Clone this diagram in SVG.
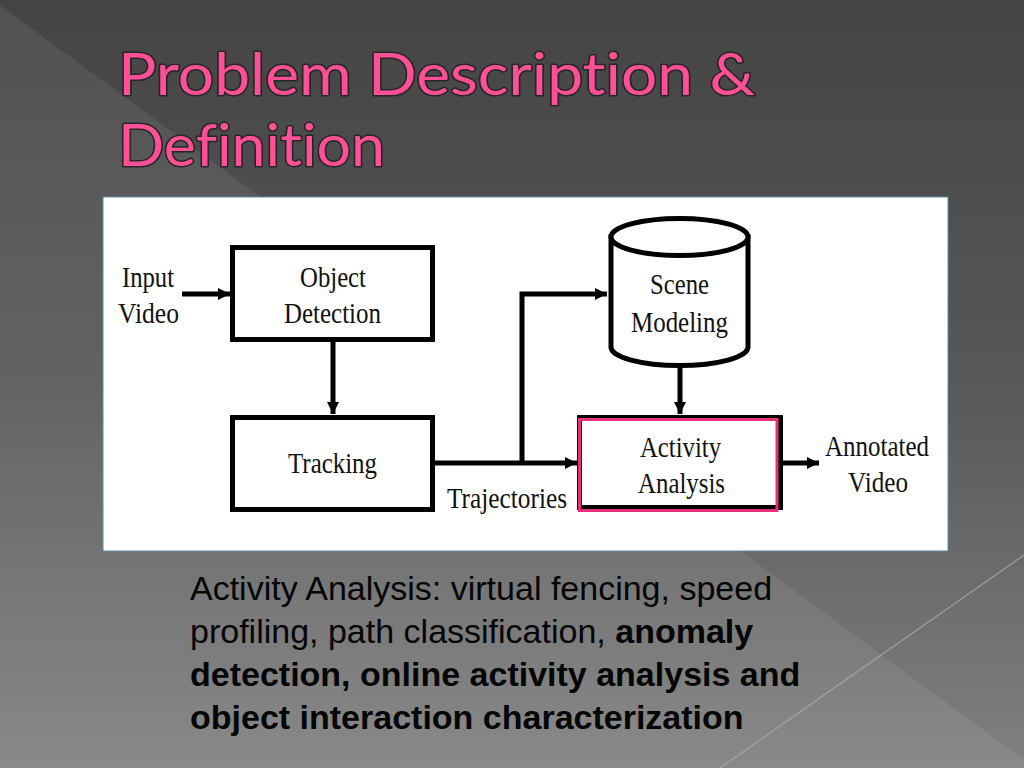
<svg xmlns="http://www.w3.org/2000/svg" width="1024" height="768" viewBox="0 0 1024 768">
<defs>
<linearGradient id="bg" x1="0" y1="0" x2="0" y2="1">
<stop offset="0" stop-color="#444444"/>
<stop offset="0.5" stop-color="#585858"/>
<stop offset="1" stop-color="#808080"/>
</linearGradient>
<marker id="ah" viewBox="0 0 12 12" refX="12" refY="6" markerWidth="12" markerHeight="12" markerUnits="userSpaceOnUse" orient="auto">
<path d="M0,0 L12,6 L0,12 Z" fill="#000"/>
</marker>
<style>
.title{font-family:"Lato","Open Sans","DejaVu Sans",sans-serif;font-weight:normal;font-size:58px;fill:#ff4f96;stroke:#262626;stroke-width:3;paint-order:stroke;stroke-linejoin:round;font-variant-ligatures:none}
.lbl{font-family:"Liberation Serif","Times New Roman",serif;font-size:29px;fill:#111;text-anchor:middle}
.box{fill:#fff;stroke:#000;stroke-width:5}
.conn{fill:none;stroke:#000;stroke-width:5}
.body{font-family:"Liberation Sans",Arial,sans-serif;font-size:34px;fill:#050505}
.b{font-weight:bold}
</style>
</defs>
<rect x="0" y="0" width="1024" height="768" fill="url(#bg)"/>
<polygon points="0,5 1024,760 1024,768 0,768" fill="#ffffff" fill-opacity="0.07"/>
<line x1="1024" y1="555" x2="720" y2="768" stroke="#b0b0b0" stroke-width="1.2" stroke-opacity="0.7"/>

<g id="title">
<text class="title" x="118" y="95" textLength="637" lengthAdjust="spacingAndGlyphs">Problem Description &amp;</text>
<text class="title" x="118" y="166" textLength="267" lengthAdjust="spacingAndGlyphs">Definition</text>
</g>

<rect x="103" y="197" width="845" height="354" fill="#ffffff" stroke="#5d8aa8" stroke-width="1"/>

<g id="connectors">
<line class="conn" x1="182" y1="294" x2="230" y2="294" marker-end="url(#ah)"/>
<line class="conn" x1="333" y1="342" x2="333" y2="414" marker-end="url(#ah)"/>
<line class="conn" x1="435" y1="463" x2="577" y2="463" marker-end="url(#ah)"/>
<polyline class="conn" points="522,463 522,294 607,294" marker-end="url(#ah)"/>
<line class="conn" x1="680" y1="368" x2="680" y2="414" marker-end="url(#ah)"/>
<line class="conn" x1="783" y1="463" x2="819" y2="463" marker-end="url(#ah)"/>
<text class="lbl" x="507" y="508" textLength="120" lengthAdjust="spacingAndGlyphs">Trajectories</text>
</g>

<g id="input-video">
<text class="lbl" x="148" y="287" textLength="52" lengthAdjust="spacingAndGlyphs">Input</text>
<text class="lbl" x="148.5" y="323" textLength="61" lengthAdjust="spacingAndGlyphs">Video</text>
</g>

<g id="object-detection">
<rect class="box" x="232.5" y="247.5" width="200" height="92"/>
<text class="lbl" x="333" y="287" textLength="66" lengthAdjust="spacingAndGlyphs">Object</text>
<text class="lbl" x="332.5" y="323" textLength="97" lengthAdjust="spacingAndGlyphs">Detection</text>
</g>

<g id="tracking">
<rect class="box" x="232.5" y="417.5" width="200" height="92"/>
<text class="lbl" x="332.5" y="473" textLength="89" lengthAdjust="spacingAndGlyphs">Tracking</text>
</g>

<g id="scene-modeling">
<path class="box" d="M611,237 L611,347 A68.5,18.5 0 0 0 748,347 L748,237 Z"/>
<ellipse class="box" cx="679.5" cy="237" rx="68.5" ry="18.5"/>
<text class="lbl" x="679.5" y="294" textLength="59" lengthAdjust="spacingAndGlyphs">Scene</text>
<text class="lbl" x="679.5" y="332" textLength="97" lengthAdjust="spacingAndGlyphs">Modeling</text>
</g>

<g id="activity-analysis">
<rect class="box" x="579.5" y="417.5" width="201" height="90"/>
<rect x="579.5" y="419.5" width="197.5" height="91" fill="none" stroke="#e8307a" stroke-width="3"/>
<text class="lbl" x="680.5" y="457" textLength="81" lengthAdjust="spacingAndGlyphs">Activity</text>
<text class="lbl" x="681.5" y="493" textLength="87" lengthAdjust="spacingAndGlyphs">Analysis</text>
</g>

<g id="annotated-video">
<text class="lbl" x="877" y="456" textLength="104" lengthAdjust="spacingAndGlyphs">Annotated</text>
<text class="lbl" x="878" y="492" textLength="60" lengthAdjust="spacingAndGlyphs">Video</text>
</g>

<g id="description">
<text class="body" x="190" y="600">Activity Analysis: virtual fencing, speed</text>
<text class="body" x="190" y="643">profiling, path classification, <tspan class="b">anomaly</tspan></text>
<text class="body b" x="190" y="686">detection, online activity analysis and</text>
<text class="body b" x="190" y="729">object interaction characterization</text>
</g>
</svg>
